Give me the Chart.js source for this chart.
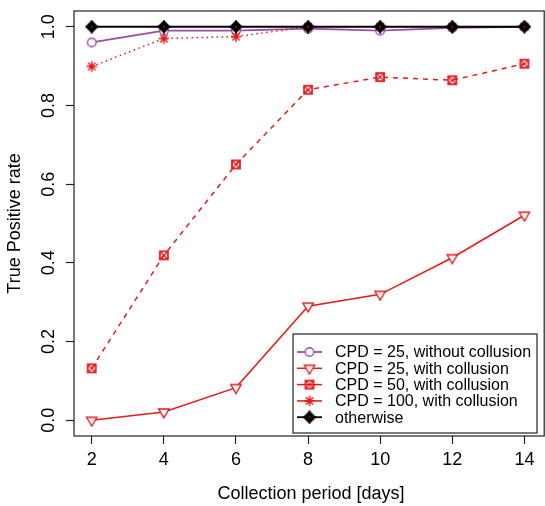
<!DOCTYPE html>
<html>
<head>
<meta charset="utf-8">
<script src="https://cdn.jsdelivr.net/npm/chart.js@4.4.1/dist/chart.umd.min.js"></script>
<style>
  html, body { margin: 0; padding: 0; background: #fff; }
  canvas { display: block; }
</style>
</head>
<body>
<canvas id="tpr" width="545" height="506"></canvas>
<script>
// collection period (days) and true positive rate per scenario
const days = [2, 4, 6, 8, 10, 12, 14];
const cpd25NoCollusion = [0.96, 0.99, 0.99, 0.995, 0.99, 0.997, 1.0];
const cpd25Collusion = [0.0, 0.021, 0.083, 0.29, 0.32, 0.413, 0.521];
const cpd50Collusion = [0.132, 0.419, 0.65, 0.84, 0.872, 0.864, 0.906];
const cpd100Collusion = [0.899, 0.97, 0.975, 1.0, 1.0, 1.0, 1.0];
const otherwise = [1.0, 1.0, 1.0, 1.0, 1.0, 1.0, 1.0];

const xTicks = [2, 4, 6, 8, 10, 12, 14];
const yTicks = [0, 0.2, 0.4, 0.6, 0.8, 1.0];
const seriesNames = [
    "CPD = 25, without collusion",
    "CPD = 25, with collusion",
    "CPD = 50, with collusion",
    "CPD = 100, with collusion",
    "otherwise"
];

const PURPLE = "#984EA3";
const RED = "#E41A1C";
const BLACK = "#000000";
const FONT = '"Liberation Sans", Arial, Helvetica, sans-serif';

// small canvases used as point symbols (R-like pch shapes)
function markerCanvas(size, paint) {
    let c = document.createElement("canvas");
    c.width = size;
    c.height = size;
    let g = c.getContext("2d");
    paint(g, size / 2);
    return c;
}

var openCircle = markerCanvas(12, function (g, c) {
    g.beginPath();
    g.arc(c, c, 4.3, 0, Math.PI * 2);
    g.fillStyle = "#fff";
    g.fill();
    g.strokeStyle = PURPLE;
    g.lineWidth = 1.4;
    g.stroke();
});

var downTriangle = markerCanvas(14, function (g, c) {
    g.beginPath();
    g.moveTo(c - 5.2, c - 3);
    g.lineTo(c + 5.2, c - 3);
    g.lineTo(c, c + 5.8);
    g.closePath();
    g.fillStyle = "#fff";
    g.fill();
    g.strokeStyle = RED;
    g.lineWidth = 1.4;
    g.stroke();
});

var boxedCross = markerCanvas(12, function (g, c) {
    g.strokeStyle = RED;
    g.lineWidth = 1.8;
    g.strokeRect(c - 4, c - 4, 8, 8);
    g.lineWidth = 1.2;
    g.beginPath();
    g.moveTo(c - 4, c - 4); g.lineTo(c + 4, c + 4);
    g.moveTo(c - 4, c + 4); g.lineTo(c + 4, c - 4);
    g.stroke();
});

var asterisk = markerCanvas(14, function (g, c) {
    g.strokeStyle = RED;
    g.lineWidth = 1.5;
    let r = 5.2, d = 3.7;
    g.beginPath();
    g.moveTo(c - r, c); g.lineTo(c + r, c);
    g.moveTo(c, c - r); g.lineTo(c, c + r);
    g.moveTo(c - d, c - d); g.lineTo(c + d, c + d);
    g.moveTo(c - d, c + d); g.lineTo(c + d, c - d);
    g.stroke();
});

var diamondPlus = markerCanvas(14, function (g, c) {
    let r = 5.6;
    g.fillStyle = BLACK;
    g.strokeStyle = BLACK;
    g.lineWidth = 1.6;
    g.beginPath();
    g.moveTo(c, c - r); g.lineTo(c + r, c); g.lineTo(c, c + r); g.lineTo(c - r, c);
    g.closePath();
    g.fill();
    g.stroke();
    g.beginPath();
    g.moveTo(c - r - 0.8, c); g.lineTo(c + r + 0.8, c);
    g.moveTo(c, c - r - 0.8); g.lineTo(c, c + r + 0.8);
    g.stroke();
    g.fillStyle = RED;
    g.fillRect(c - 0.8, c - 0.8, 1.6, 1.6);
});

function series(label, values, color, dash, marker, width, order) {
    return {
        label: label,
        data: days.map((d, i) => ({ x: d, y: values[i] })),
        borderColor: color,
        backgroundColor: color,
        borderWidth: width,
        borderDash: dash,
        pointStyle: marker,
        pointRadius: 5,
        pointHoverRadius: 5,
        fill: false,
        tension: 0,
        clip: false,
        order: order
    };
}

const datasets = [
    series(seriesNames[0], cpd25NoCollusion, PURPLE, [], openCircle, 1.8, 4),
    series(seriesNames[1], cpd25Collusion, RED, [], downTriangle, 1.5, 3),
    series(seriesNames[2], cpd50Collusion, RED, [5, 5], boxedCross, 1.5, 2),
    series(seriesNames[3], cpd100Collusion, RED, [1.5, 3.5], asterisk, 1.5, 1),
    series(seriesNames[4], otherwise, BLACK, [], diamondPlus, 1.8, 0)
];

// frame, axis text and legend drawn in the style of base R graphics
const rStyle = {
    id: "rStyle",
    afterDraw(chart) {
        let ctx = chart.ctx;
        let a = chart.chartArea;
        let sx = chart.scales.x, sy = chart.scales.y;
        ctx.save();

        ctx.strokeStyle = "#222";
        ctx.lineWidth = 1.2;
        ctx.strokeRect(a.left, a.top, a.right - a.left + 6, a.bottom - a.top);

        ctx.fillStyle = "#000";
        ctx.font = "18px " + FONT;
        ctx.textAlign = "center";
        ctx.textBaseline = "middle";
        xTicks.forEach(v => ctx.fillText(String(v), sx.getPixelForValue(v), 460));
        yTicks.forEach(v => {
            ctx.save();
            ctx.translate(49, sy.getPixelForValue(v));
            ctx.rotate(-Math.PI / 2);
            ctx.fillText(v.toFixed(1), 0, 0);
            ctx.restore();
        });

        ctx.fillText("Collection period [days]", 311, 494);
        ctx.save();
        ctx.translate(15, (a.top + a.bottom) / 2);
        ctx.rotate(-Math.PI / 2);
        ctx.fillText("True Positive rate", 0, 0);
        ctx.restore();

        // legend box
        let lx = 293, ly = 334, lw = 244, lh = 99;
        ctx.fillStyle = "#fff";
        ctx.fillRect(lx, ly, lw, lh);
        ctx.strokeStyle = "#222";
        ctx.lineWidth = 1.2;
        ctx.strokeRect(lx, ly, lw, lh);
        ctx.font = "16px " + FONT;
        ctx.textAlign = "left";
        chart.data.datasets.forEach((ds, i) => {
            let y = 352 + i * 16.3;
            ctx.strokeStyle = ds.borderColor;
            ctx.lineWidth = ds.borderWidth;
            ctx.setLineDash([]);
            ctx.beginPath();
            ctx.moveTo(297, y);
            ctx.lineTo(322, y);
            ctx.stroke();
            let m = ds.pointStyle;
            ctx.drawImage(m, 309.5 - m.width / 2, y - m.height / 2);
            ctx.fillStyle = "#000";
            ctx.fillText(ds.label, 335, y + 1);
        });
        ctx.restore();
    }
};

function axisTicks(values) {
    return function (scale) {
        scale.ticks = values.map(v => ({ value: v }));
    };
}

new Chart(document.getElementById("tpr"), {
    type: "line",
    data: { datasets: datasets },
    options: {
        responsive: false,
        animation: false,
        events: [],
        layout: { padding: { top: 11, right: 0, bottom: 0, left: 0 } },
        plugins: {
            legend: { display: false },
            tooltip: { enabled: false }
        },
        scales: {
            x: {
                type: "linear",
                min: 1.508,
                max: 14.383,
                afterBuildTicks: axisTicks(xTicks),
                afterFit: function (scale) { scale.height = 70; },
                ticks: { display: false },
                border: { display: false },
                grid: {
                    drawOnChartArea: false,
                    drawTicks: true,
                    tickLength: 8,
                    tickColor: "#222",
                    tickWidth: 1.2
                }
            },
            y: {
                type: "linear",
                min: -0.04,
                max: 1.04,
                afterBuildTicks: axisTicks(yTicks),
                afterFit: function (scale) { scale.width = 74; },
                ticks: { display: false },
                border: { display: false },
                grid: {
                    drawOnChartArea: false,
                    drawTicks: true,
                    tickLength: 8,
                    tickColor: "#222",
                    tickWidth: 1.2
                }
            }
        }
    },
    plugins: [rStyle]
});
</script>
</body>
</html>
